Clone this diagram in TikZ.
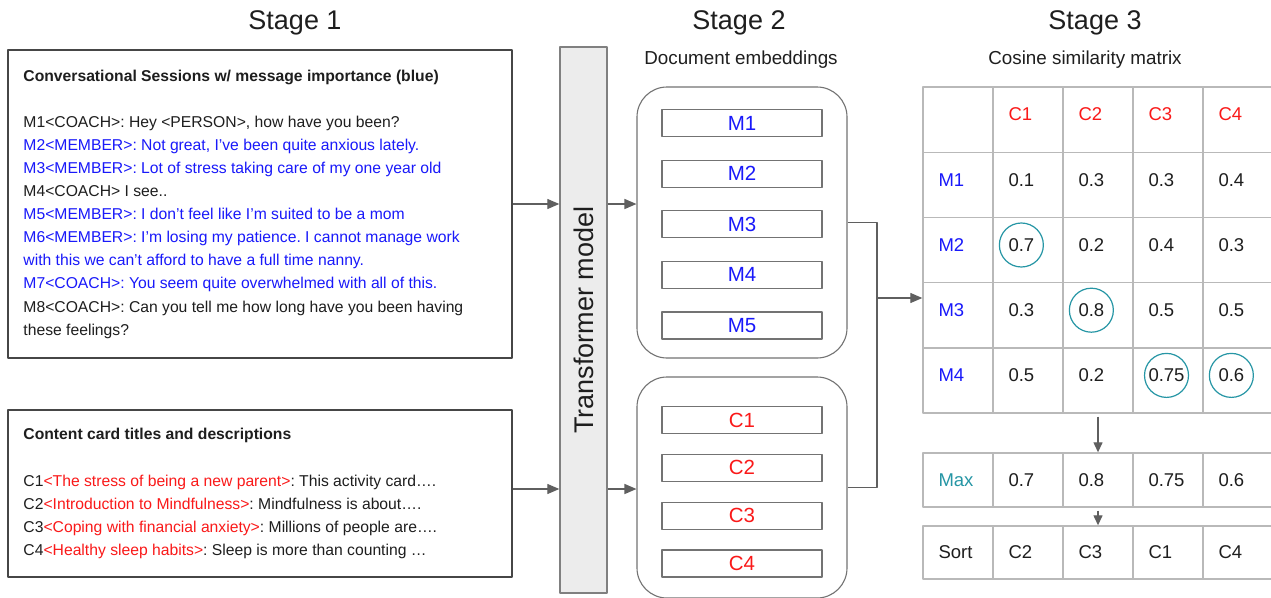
\documentclass[tikz,border=0pt]{standalone}
\usepackage{fontspec}
\setmainfont{Liberation Sans}
\usetikzlibrary{arrows.meta,positioning,calc}

\definecolor{msgblue}{RGB}{25,25,250}
\definecolor{cardred}{RGB}{250,25,25}
\definecolor{hitteal}{RGB}{38,150,165}
\definecolor{linegray}{RGB}{95,95,95}
\definecolor{boxgray}{RGB}{115,115,115}
\definecolor{panelgray}{RGB}{70,70,70}
\definecolor{gridgray}{RGB}{185,185,185}
\definecolor{modelgray}{RGB}{236,236,236}
\definecolor{inkgray}{RGB}{30,30,30}

\newcommand\bodyfont{\fontsize{15.7}{23.1}\selectfont}
\frenchspacing

\tikzset{
  panel/.style={draw=panelgray, line width=1.5pt, minimum width=504pt},
  model/.style={draw=gray, fill=modelgray, line width=1.4pt, minimum width=47pt, minimum height=546pt, font=\fontsize{27}{32}\selectfont, text=inkgray},
  group/.style={draw=boxgray, line width=1.1pt, rounded corners=30pt, minimum width=210pt},
  slot/.style={draw=boxgray, line width=1.2pt, minimum width=160pt, minimum height=27pt, font=\fontsize{20.5}{24}\selectfont},
  wire/.style={draw=linegray, line width=1.3pt},
  arr/.style={wire, -{Triangle[length=12pt,width=10pt]}},
  small arr/.style={wire, -{Triangle[length=10pt,width=9pt]}, shorten <=3pt},
  cell/.style={draw=gridgray, line width=1.4pt, minimum width=70pt, inner sep=0pt},
  val/.style={anchor=west, inner sep=0pt, font=\fontsize{18.5}{22}\selectfont, text=inkgray},
  hit/.style={draw=hitteal, line width=1.2pt},
  stage/.style={font=\fontsize{27}{32}\selectfont, text=inkgray},
  sub/.style={font=\fontsize{18.8}{22}\selectfont, text=inkgray},
}

\begin{document}
\begin{tikzpicture}[x=1pt, y=-1pt, line join=round]
\useasboundingbox[fill=white] (0,0) rectangle (1271,597);

\node[stage] (stage1) at (295,23) {Stage 1};
\node[stage] (stage2) at (739,23) {Stage 2};
\node[stage] (stage3) at (1095,23) {Stage 3};
\node[sub] (docemb) at (741,60) {Document embeddings};
\node[sub] (cosine) at (1085,60) {Cosine similarity matrix};

% stage 1
\node[panel, minimum height=308pt] (sessions) at (260,204) {};
\node[anchor=west, align=left, inner sep=0pt, font=\bodyfont, text=inkgray] (sessionstext) at ([xshift=16pt]sessions.west)
  {\textbf{Conversational Sessions w/ message importance (blue)}\\[23.1pt]
   M1<COACH>: Hey <PERSON>, how have you been?\\
   \textcolor{msgblue}{M2<MEMBER>: Not great, I’ve been quite anxious lately.}\\
   \textcolor{msgblue}{M3<MEMBER>: Lot of stress taking care of my one year old}\\
   M4<COACH> I see..\\
   \textcolor{msgblue}{M5<MEMBER>: I don’t feel like I’m suited to be a mom}\\
   \textcolor{msgblue}{M6<MEMBER>: I’m losing my patience. I cannot manage work}\\
   \textcolor{msgblue}{with this we can’t afford to have a full time nanny.}\\
   \textcolor{msgblue}{M7<COACH>: You seem quite overwhelmed with all of this.}\\
   M8<COACH>: Can you tell me how long have you been having\\
   these feelings?};

\node[panel, minimum height=167pt] (cards) at (260,493.5) {};
\node[anchor=west, align=left, inner sep=0pt, font=\bodyfont, text=inkgray] (cardstext) at ([xshift=16pt]cards.west)
  {\textbf{Content card titles and descriptions}\\[23.1pt]
   C1\textcolor{cardred}{<The stress of being a new parent>}: This activity card….\\
   C2\textcolor{cardred}{<Introduction to Mindfulness>}: Mindfulness is about….\\
   C3\textcolor{cardred}{<Coping with financial anxiety>}: Millions of people are….\\
   C4\textcolor{cardred}{<Healthy sleep habits>}: Sleep is more than counting …};

\node[model] (transformer) at (583.5,320) {\rotatebox{90}{Transformer model}};

% stage 2
\node[group, minimum height=271pt] (embedM) at (742,222.5) {};
\node[group, minimum height=221pt] (embedC) at (742,487.5) {};
\foreach \i [evaluate=\i as \y using 123+50.6*(\i-1)] in {1,...,5}
  \node[slot, text=msgblue] (m\i) at (742,\y) {M\i};
\foreach \i [evaluate=\i as \y using 420+47.8*(\i-1)] in {1,...,4}
  \node[slot, text=cardred] (c\i) at (742,\y) {C\i};

\coordinate (cardsout) at ([yshift=4.5pt]cards.east);
\draw[arr] (sessions.east) -- (sessions.east -| transformer.west);
\draw[arr] (transformer.east |- sessions.east) -- (embedM.west |- sessions.east);
\draw[arr] (cardsout) -- (cardsout -| transformer.west);
\draw[arr] (transformer.east |- cardsout) -- (embedC.west |- cardsout);

% stage 3
\foreach \r in {0,...,4}
  \foreach \c in {0,...,4}
    \node[cell, minimum height=65.2pt] (t-\r-\c) at ({958+70*\c},{119.6+65.2*\r}) {};
\foreach \c in {0,...,4} {
  \node[cell, minimum height=54pt] (max-\c) at ({958+70*\c},480) {};
  \node[cell, minimum height=53pt] (sort-\c) at ({958+70*\c},552.5) {};
}
\foreach \c in {1,...,4}
  \node[val, text=cardred] (h-\c) at ([xshift=16pt,yshift=5pt]t-0-\c.west) {C\c};
\foreach \r in {1,...,4}
  \node[val, text=msgblue] (rowlab-\r) at ([xshift=16pt,yshift=5pt]t-\r-0.west) {M\r};
\foreach \r/\vals in {1/{0.1,0.3,0.3,0.4}, 2/{0.7,0.2,0.4,0.3}, 3/{0.3,0.8,0.5,0.5}, 4/{0.5,0.2,0.75,0.6}}
  \foreach \v [count=\c] in \vals
    \node[val] (v-\r-\c) at ([xshift=16pt,yshift=5pt]t-\r-\c.west) {\v};
\foreach \p in {v-2-1, v-3-2, v-4-3, v-4-4}
  \draw[hit] (\p.center) circle (22pt);

\node[val, text=hitteal] (maxlab) at ([xshift=16pt]max-0.west) {Max};
\foreach \v [count=\c] in {0.7,0.8,0.75,0.6}
  \node[val] (mx-\c) at ([xshift=16pt]max-\c.west) {\v};
\node[val] (sortlab) at ([xshift=16pt]sort-0.west) {Sort};
\foreach \v [count=\c] in {C2,C3,C1,C4}
  \node[val] (st-\c) at ([xshift=16pt]sort-\c.west) {\v};

\coordinate (merge) at (877,298);
\draw[wire] (embedM.east) -| (merge);
\draw[wire] (embedC.east) -| (merge);
\draw[arr] (merge) -- (merge -| t-0-0.west);
\draw[small arr] (t-4-2.south) -- (max-2.north);
\draw[small arr] (max-2.south) -- (sort-2.north);
\end{tikzpicture}
\end{document}
